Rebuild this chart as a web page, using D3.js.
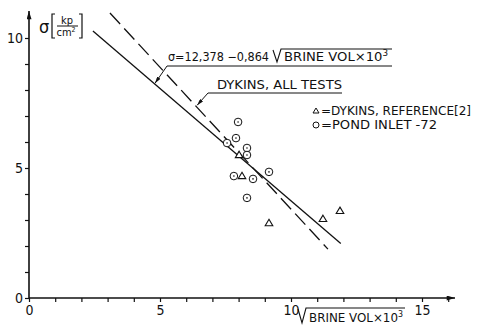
<!DOCTYPE html>
<html lang="en">
<head>
<meta charset="UTF-8">
<script src="https://cdn.jsdelivr.net/npm/d3@7"></script>
<title>Brine volume</title>
<style>
body { margin: 0; background: #fff; }
text { font-family: "DejaVu Sans Condensed", "DejaVu Sans", sans-serif; fill: #111; }
</style>
</head>
<body>
<script>
// Pond inlet -72 (circles)
var pondX = [7.98, 7.90, 7.56, 8.32, 8.32, 9.16, 7.82, 8.55, 8.32];
var pondY = [6.77, 6.15, 5.96, 5.77, 5.50, 4.85, 4.69, 4.58, 3.85];
// Dykins, reference [2] (triangles)
var dykX = [8.02, 8.13, 9.16, 11.22, 11.87];
var dykY = [5.50, 4.69, 2.88, 3.04, 3.35];
// fitted line sigma = a - b * sqrt(brine vol)
var fitA = 12.378, fitB = 0.864;
var fitRange = [2.44, 11.9];
// Dykins, all tests (dashed)
var allX = [3.09, 11.41];
var allY = [10.96, 1.88];

var xTicks = d3.range(0, 17), xLabels = [0, 5, 10, 15];
var yTicks = d3.range(0, 11), yLabels = [0, 5, 10];

var width = 478, height = 326;

var svg = d3.select("body").append("svg")
    .attr("width", width).attr("height", height);

var x = d3.scaleLinear().domain([0, 15]).range([29, 422]);
var y = d3.scaleLinear().domain([0, 10]).range([298, 38]);

var defs = svg.append("defs");
defs.append("marker").attr("id", "axarrow")
    .attr("viewBox", "0 0 10 6").attr("refX", 10).attr("refY", 3)
    .attr("markerWidth", 14).attr("markerHeight", 5).attr("markerUnits", "userSpaceOnUse")
    .attr("orient", "auto")
    .append("path").attr("d", "M0,0L10,3L0,6Z").attr("fill", "#111");
defs.append("marker").attr("id", "lead")
    .attr("viewBox", "0 0 10 6").attr("refX", 10).attr("refY", 3)
    .attr("markerWidth", 7).attr("markerHeight", 4).attr("markerUnits", "userSpaceOnUse")
    .attr("orient", "auto")
    .append("path").attr("d", "M0,0L10,3L0,6Z").attr("fill", "#111");

// axes
var xAxis = svg.append("g").attr("transform", "translate(0," + y(0) + ")")
    .call(d3.axisBottom(x).tickValues(xTicks).tickSize(4).tickPadding(3)
        .tickFormat(function(d){ return xLabels.indexOf(d) >= 0 ? d : ""; }));
var yAxis = svg.append("g").attr("transform", "translate(" + x(0) + ",0)")
    .call(d3.axisLeft(y).tickValues(yTicks).tickSize(4).tickPadding(2)
        .tickFormat(function(d){ return yLabels.indexOf(d) >= 0 ? d : ""; }));
[xAxis, yAxis].forEach(function(g){
    g.select(".domain").remove();
    g.selectAll(".tick line").attr("stroke", "#111").attr("stroke-width", 1.2);
    g.selectAll(".tick text").attr("font-size", 14).attr("fill", "#111")
        .style("font-family", "'DejaVu Sans Condensed', 'DejaVu Sans', sans-serif");
});
svg.append("line").attr("x1", x(0)).attr("y1", y(0)).attr("x2", 455).attr("y2", y(0))
    .attr("stroke", "#111").attr("stroke-width", 1.6).attr("marker-end", "url(#axarrow)");
svg.append("line").attr("x1", x(0)).attr("y1", y(0)).attr("x2", x(0)).attr("y2", 11)
    .attr("stroke", "#111").attr("stroke-width", 1.6).attr("marker-end", "url(#axarrow)");

// fitted line
svg.append("line")
    .attr("x1", x(fitRange[0])).attr("y1", y(fitA - fitB * fitRange[0]))
    .attr("x2", x(fitRange[1])).attr("y2", y(fitA - fitB * fitRange[1]))
    .attr("stroke", "#111").attr("stroke-width", 1.3);
// dashed line
svg.append("line")
    .attr("x1", x(allX[0])).attr("y1", y(allY[0]))
    .attr("x2", x(allX[1])).attr("y2", y(allY[1]))
    .attr("stroke", "#111").attr("stroke-width", 1.3).attr("stroke-dasharray", "15,6");

// points
svg.selectAll("g.pond").data(pondX).enter().append("g").attr("class", "pond")
    .attr("transform", function(d, i){ return "translate(" + x(d) + "," + y(pondY[i]) + ")"; })
    .each(function(){
        d3.select(this).append("circle").attr("r", 3.8).attr("fill", "#fff")
            .attr("stroke", "#111").attr("stroke-width", 1);
        d3.select(this).append("circle").attr("r", 0.8).attr("fill", "#111");
    });
var tri = "M0,-3.8L3.8,2.6L-3.8,2.6Z";
svg.selectAll("path.dyk").data(dykX).enter().append("path").attr("class", "dyk")
    .attr("transform", function(d, i){ return "translate(" + x(d) + "," + y(dykY[i]) + ")"; })
    .attr("d", tri).attr("fill", "#fff").attr("stroke", "#111").attr("stroke-width", 1.1);

// radical helper: draws V + overbar starting at x0, top at yt, bottom at yb, bar to x1
function radical(x0, yt, yb, x1){
    svg.append("path")
        .attr("d", "M" + x0 + "," + (yt + 1) + "L" + (x0 + 4) + "," + yb + "L" + (x0 + 8) + "," + yt + "L" + x1 + "," + yt)
        .attr("fill", "none").attr("stroke", "#111").attr("stroke-width", 1.1);
}

// equation annotation
svg.append("text").attr("x", 168).attr("y", 61).attr("font-size", 12)
    .attr("textLength", 101).attr("lengthAdjust", "spacingAndGlyphs")
    .text("\u03c3=12,378 \u22120,864");
radical(273, 49, 62, 392);
var eq = svg.append("text").attr("x", 284).attr("y", 61).attr("font-size", 12)
    .attr("textLength", 104).attr("lengthAdjust", "spacingAndGlyphs");
eq.append("tspan").text("BRINE  VOL\u00d710");
eq.append("tspan").attr("font-size", 8).attr("dy", -5).text("3");
svg.append("path").attr("d", "M392,66L167,66L" + x(4.81) + "," + (y(fitA - fitB * 4.81) - 1))
    .attr("fill", "none").attr("stroke", "#111").attr("stroke-width", 1).attr("marker-end", "url(#lead)");

// dykins all tests annotation
svg.append("text").attr("x", 217).attr("y", 89).attr("font-size", 12)
    .attr("textLength", 125).attr("lengthAdjust", "spacingAndGlyphs")
    .text("DYKINS, ALL  TESTS");
svg.append("path").attr("d", "M342,93L208,93L" + (x(6.38) + 1) + "," + (y(14.33 - 1.09 * 6.38) - 1))
    .attr("fill", "none").attr("stroke", "#111").attr("stroke-width", 1).attr("marker-end", "url(#lead)");

// legend
svg.append("path").attr("transform", "translate(316,111)").attr("d", "M0,-3L3,2L-3,2Z")
    .attr("fill", "#fff").attr("stroke", "#111").attr("stroke-width", 1);
svg.append("text").attr("x", 321).attr("y", 115).attr("font-size", 12)
    .attr("textLength", 150).attr("lengthAdjust", "spacingAndGlyphs")
    .text("=DYKINS, REFERENCE[2]");
svg.append("circle").attr("cx", 316).attr("cy", 125).attr("r", 3).attr("fill", "#fff")
    .attr("stroke", "#111").attr("stroke-width", 1);
svg.append("text").attr("x", 321).attr("y", 129).attr("font-size", 12)
    .attr("textLength", 116).attr("lengthAdjust", "spacingAndGlyphs")
    .text("=POND  INLET   -72");

// y label: sigma [kp/cm2]
svg.append("text").attr("x", 39).attr("y", 33).attr("font-size", 18).text("\u03c3");
svg.append("path").attr("d", "M55,14L52,14L52,38L55,38").attr("fill", "none").attr("stroke", "#111").attr("stroke-width", 1.2);
svg.append("path").attr("d", "M79,14L82,14L82,38L79,38").attr("fill", "none").attr("stroke", "#111").attr("stroke-width", 1.2);
svg.append("text").attr("x", 67).attr("y", 24).attr("font-size", 11).attr("text-anchor", "middle").text("kp");
svg.append("line").attr("x1", 57).attr("y1", 26).attr("x2", 78).attr("y2", 26).attr("stroke", "#111").attr("stroke-width", 1);
var cm = svg.append("text").attr("x", 66).attr("y", 36).attr("font-size", 11).attr("text-anchor", "middle");
cm.append("tspan").text("cm");
cm.append("tspan").attr("font-size", 7).attr("dy", -4).text("2");

// x label: sqrt(brine vol x 10^3)
radical(298, 308, 323, 405);
var xl = svg.append("text").attr("x", 309).attr("y", 322).attr("font-size", 12)
    .attr("textLength", 94).attr("lengthAdjust", "spacingAndGlyphs");
xl.append("tspan").text("BRINE  VOL\u00d710");
xl.append("tspan").attr("font-size", 8).attr("dy", -5).text("3");
</script>
</body>
</html>
